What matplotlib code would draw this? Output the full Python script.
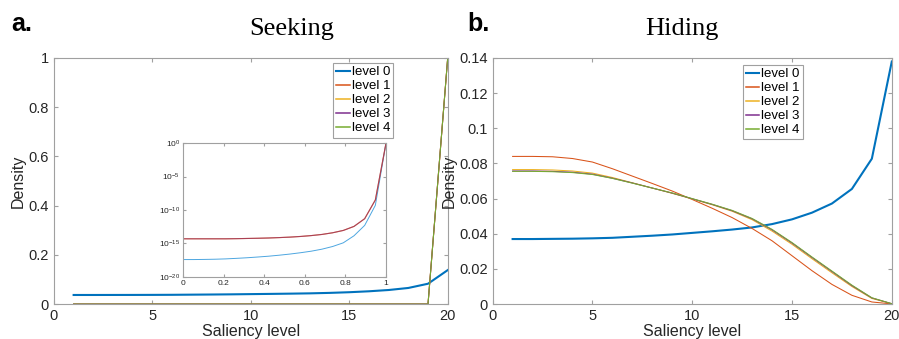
import numpy as np
import matplotlib
matplotlib.use('Agg')
import matplotlib.pyplot as plt

# saliency levels 1..20
saliency = np.arange(1, 21)

# Hiding panel densities
hide_l0 = [0.0370, 0.0370, 0.0371, 0.0372, 0.0374, 0.0377, 0.0383, 0.0389, 0.0396, 0.0405,
           0.0414, 0.0424, 0.0436, 0.0455, 0.0482, 0.0520, 0.0572, 0.0655, 0.0827, 0.1380]
hide_l1 = [0.0840, 0.0840, 0.0838, 0.0828, 0.0808, 0.0770, 0.0728, 0.0686, 0.0643, 0.0595,
           0.0545, 0.0492, 0.0430, 0.0360, 0.0275, 0.0190, 0.0112, 0.0050, 0.0012, 0.0001]
hide_l2 = [0.0765, 0.0765, 0.0763, 0.0757, 0.0745, 0.0720, 0.0690, 0.0660, 0.0630, 0.0598,
           0.0565, 0.0528, 0.0480, 0.0415, 0.0340, 0.0258, 0.0178, 0.0100, 0.0032, 0.0002]
hide_l3 = [0.0757, 0.0757, 0.0755, 0.0750, 0.0739, 0.0716, 0.0689, 0.0660, 0.0631, 0.0599,
           0.0567, 0.0531, 0.0485, 0.0422, 0.0347, 0.0265, 0.0185, 0.0105, 0.0035, 0.0002]
hide_l4 = [0.0755, 0.0755, 0.0753, 0.0748, 0.0737, 0.0715, 0.0688, 0.0660, 0.0632, 0.0600,
           0.0568, 0.0533, 0.0487, 0.0425, 0.0350, 0.0268, 0.0188, 0.0108, 0.0036, 0.0002]

# Seeking panel: level 0 density, levels 1-4 given as log10
seek_l0 = hide_l0
seek_high_log = [-14.3, -14.3, -14.3, -14.3, -14.3, -14.28, -14.25, -14.22, -14.18, -14.12,
                 -14.05, -13.95, -13.82, -13.65, -13.4, -13.05, -12.45, -11.3, -8.5, 0.0]
inset_low_log = [-17.4, -17.4, -17.38, -17.35, -17.3, -17.22, -17.13, -17.02, -16.9, -16.75,
                 -16.58, -16.38, -16.15, -15.85, -15.45, -14.9, -13.85, -12.3, -9.3, 0.0]

labels = ['level 0', 'level 1', 'level 2', 'level 3', 'level 4']
colors = ['#0072BD', '#D95319', '#EDB120', '#7E2F8E', '#77AC30']

plt.rcParams['font.family'] = ['Liberation Sans', 'DejaVu Sans']
spine_c = '#a0a0a0'
text_c = '#262626'


def style(ax, fs=10.5):
    for s in ax.spines.values():
        s.set_color(spine_c)
        s.set_linewidth(0.8)
    ax.tick_params(direction='in', top=True, right=True, colors=spine_c,
                   labelcolor=text_c, labelsize=fs, length=3)


def add_legend(ax, anchor):
    leg = ax.legend(loc='upper right', bbox_to_anchor=anchor, fontsize=9.5,
                    handlelength=1.0, handletextpad=0.15, borderpad=0.25,
                    labelspacing=0.13, borderaxespad=0.0, fancybox=False, framealpha=1)
    leg.get_frame().set_edgecolor(spine_c)
    leg.get_frame().set_linewidth(0.8)
    for ln in leg.get_lines():
        ln.set_linewidth(max(ln.get_linewidth(), 1.1))


fig = plt.figure(figsize=(8.99, 3.39), dpi=100)

# ---- a. Seeking
axA = fig.add_axes([0.060, 0.103, 0.438, 0.726])
seek_high = 10 ** np.array(seek_high_log)
axA.plot(saliency, seek_l0, color=colors[0], lw=1.5, label=labels[0])
for c, lab in zip(colors[1:], labels[1:]):
    axA.plot(saliency, seek_high, color=c, lw=0.75, label=lab)
axA.set_xlim(0, 20)
axA.set_ylim(0, 1)
axA.set_xticks([0, 5, 10, 15, 20])
axA.set_yticks([0, 0.2, 0.4, 0.6, 0.8, 1])
axA.set_yticklabels(['0', '0.2', '0.4', '0.6', '0.8', '1'])
axA.set_xlabel('Saliency level', fontsize=11.5, color=text_c, labelpad=1)
axA.set_ylabel('Density', fontsize=11.5, color=text_c, labelpad=2)
style(axA)
add_legend(axA, (0.862, 0.98))

# inset
axI = fig.add_axes([0.2036, 0.183, 0.2258, 0.395])
inset_x = (saliency - 1) / 19
axI.plot(inset_x, 10 ** np.array(inset_low_log), color='#4DA6E0', lw=0.7)
axI.plot(inset_x, seek_high, color=colors[1], lw=0.8)
axI.plot(inset_x, seek_high, color=colors[3], lw=0.8, alpha=0.5)
axI.set_yscale('log')
axI.set_xlim(0, 1)
axI.set_ylim(1e-20, 1)
axI.set_yticks([1e-20, 1e-15, 1e-10, 1e-5, 1])
axI.minorticks_off()
axI.set_xticks([0, 0.2, 0.4, 0.6, 0.8, 1])
axI.set_xticklabels(['0', '0.2', '0.4', '0.6', '0.8', '1'])
style(axI, fs=6)
axI.tick_params(length=2, pad=2)

# ---- b. Hiding
axB = fig.add_axes([0.548, 0.103, 0.444, 0.726])
for y, c, lab, lw in zip([hide_l0, hide_l1, hide_l2, hide_l3, hide_l4], colors, labels,
                         [1.5, 0.75, 0.75, 0.75, 0.75]):
    axB.plot(saliency, y, color=c, lw=lw, label=lab)
axB.set_xlim(0, 20)
axB.set_ylim(0, 0.14)
axB.set_xticks([0, 5, 10, 15, 20])
axB.set_yticks(np.arange(0, 0.141, 0.02))
axB.set_yticklabels(['0', '0.02', '0.04', '0.06', '0.08', '0.1', '0.12', '0.14'])
axB.set_xlabel('Saliency level', fontsize=11.5, color=text_c, labelpad=1)
axB.set_ylabel('Density', fontsize=11.5, color=text_c, labelpad=2)
style(axB)
add_legend(axB, (0.778, 0.972))

# titles and panel letters
fig.text(0.325, 0.915, 'Seeking', family='Liberation Serif', fontsize=19,
         ha='center', va='center')
fig.text(0.758, 0.915, 'Hiding', family='Liberation Serif', fontsize=19,
         ha='center', va='center')
fig.text(0.012, 0.93, 'a.', fontsize=18, fontweight='bold', va='center')
fig.text(0.520, 0.93, 'b.', fontsize=18, fontweight='bold', va='center')

fig.savefig('out.png', dpi=100)
